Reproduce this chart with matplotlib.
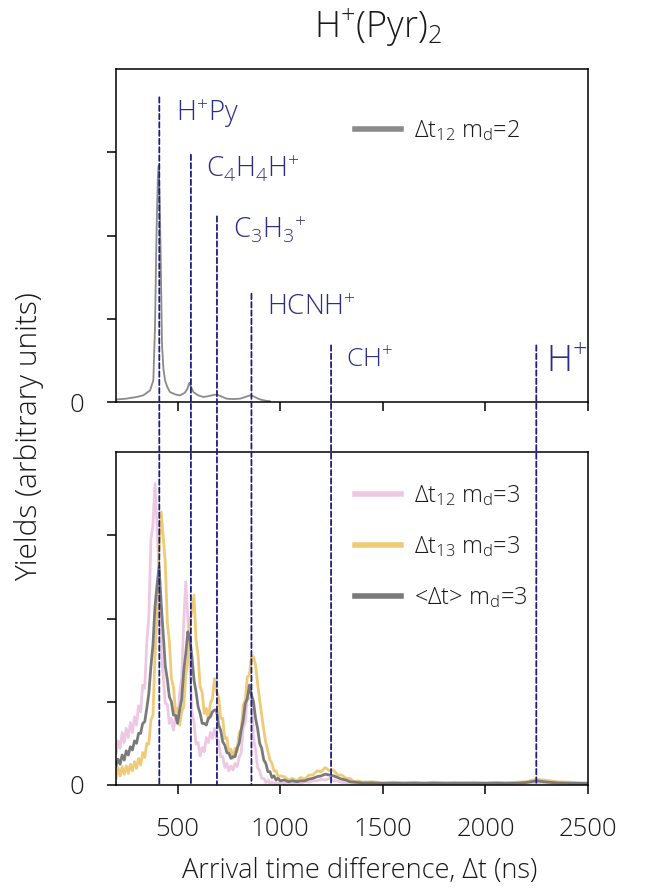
import matplotlib
matplotlib.use("Agg")
import matplotlib.pyplot as plt
from matplotlib.patches import ConnectionPatch
from matplotlib.lines import Line2D

plt.rcParams['font.family'] = ['Open Sans', 'DejaVu Sans']
plt.rcParams['font.weight'] = 'light'
plt.rcParams['mathtext.fontset'] = 'custom'
plt.rcParams['mathtext.rm'] = 'Open Sans:light'
plt.rcParams['mathtext.it'] = 'Open Sans:light'
plt.rcParams['mathtext.bf'] = 'Open Sans'

# ---------------- data ----------------
title = "H$^{+}$(Pyr)$_2$"
xlabel = "Arrival time difference, Δt (ns)"
ylabel = "Yields (arbitrary units)"
xticks = [500, 1000, 1500, 2000, 2500]
xtick_labels = ["500", "1000", "1500", "2000", "2500"]
yticks = [0, 1, 2, 3]
ytick_labels = ["0", "", "", ""]

# fragment markers (ns) and labels
frag_x = [411, 565, 692, 860, 1248, 2248]
frag_labels = ["H$^{+}$Py", "C$_4$H$_4$H$^{+}$", "C$_3$H$_3$$^{+}$", "HCNH$^{+}$", "CH$^{+}$", "H$^{+}$"]

# top panel: Δt12, md=2
top_x = [200, 250, 300, 333, 366, 382, 390, 398, 404, 408, 413, 418, 424, 431, 439, 450, 463, 490,
         512, 535, 548, 557, 566, 577, 600, 626, 650, 674, 691, 710, 739, 770, 804, 830, 853, 869,
         885, 902, 930, 950]
top_y = [0.03, 0.04, 0.06, 0.08, 0.14, 0.26, 0.90, 2.10, 2.70, 2.84, 2.40, 1.70, 0.70, 0.40, 0.26,
         0.18, 0.12, 0.09, 0.08, 0.11, 0.16, 0.23, 0.18, 0.12, 0.08, 0.06, 0.07, 0.084, 0.09, 0.07,
         0.04, 0.035, 0.04, 0.06, 0.08, 0.07, 0.05, 0.03, 0.015, 0.01]

# bottom panel sampling grid (ns)
grid_x = [200, 210, 220, 230, 240, 250, 260, 270, 280, 290, 300, 310, 320, 330, 340, 350, 360, 370,
          380, 390, 400, 410, 420, 430, 440, 450, 460, 470, 480, 490, 500, 510, 520, 530, 540, 550,
          560, 570, 580, 590, 600, 610, 620, 630, 640, 650, 660, 670, 680, 690, 700, 710, 720, 730,
          740, 750, 760, 770, 780, 790, 800, 810, 820, 830, 840, 850, 860, 870, 880, 890, 900, 910,
          920, 930, 940, 950, 960, 970, 980, 990, 1000,
          1020, 1040, 1060, 1080, 1100, 1120, 1140, 1160, 1180, 1200, 1220, 1240, 1260, 1280, 1300,
          1320, 1340, 1360, 1380, 1400,
          1450, 1500, 1550, 1600, 1650, 1700, 1750, 1800, 1850, 1900, 1950, 2000, 2050, 2100, 2150,
          2200, 2250, 2300, 2350, 2400, 2450, 2500]

dt12_md3 = [0.38, 0.53, 0.44, 0.63, 0.51, 0.68, 0.57, 0.75, 0.63, 0.82, 0.72, 0.95, 0.88, 1.20, 1.16,
            1.72, 2.02, 2.95, 3.12, 3.62, 3.10, 2.50, 1.60, 1.32, 0.98, 0.97, 0.74, 0.80, 0.66, 0.81,
            0.77, 1.10, 1.28, 1.95, 2.44, 2.00, 1.42, 0.88, 0.76, 0.49, 0.51, 0.35, 0.45, 0.40, 0.57,
            0.51, 0.63, 0.56, 0.68, 0.56, 0.52, 0.34, 0.34, 0.21, 0.26, 0.17, 0.23, 0.18, 0.26, 0.22,
            0.33, 0.39, 0.68, 0.76, 1.06, 1.03, 1.03, 0.57, 0.42, 0.21, 0.17, 0.08, 0.08, 0.03, 0.06,
            0.02, 0.04, 0.01, 0.03, 0.01, 0.03,
            0.02, 0.03, 0.01, 0.03, 0.02, 0.04, 0.03, 0.05, 0.05, 0.07, 0.06, 0.08, 0.05, 0.05, 0.03,
            0.03, 0.02, 0.02, 0.01, 0.01,
            0.01, 0.01, 0.01, 0.01, 0.01, 0.01, 0.01, 0.01, 0.01, 0.01, 0.01, 0.01, 0.01, 0.01, 0.01,
            0.01, 0.02, 0.01, 0.01, 0.01, 0.01, 0.01]

dt13_md3 = [0.08, 0.21, 0.11, 0.22, 0.13, 0.23, 0.14, 0.25, 0.17, 0.28, 0.20, 0.32, 0.24, 0.39, 0.33,
            0.50, 0.49, 0.78, 0.84, 1.55, 2.00, 2.84, 3.28, 2.98, 2.68, 1.96, 1.72, 1.28, 1.18, 0.88,
            0.92, 0.72, 0.88, 0.94, 1.32, 1.48, 1.97, 2.08, 2.28, 1.74, 1.56, 1.18, 1.11, 0.86, 0.92,
            0.79, 0.98, 1.04, 1.28, 1.12, 1.06, 0.80, 0.80, 0.56, 0.57, 0.39, 0.43, 0.32, 0.44, 0.40,
            0.62, 0.67, 0.96, 1.02, 1.30, 1.32, 1.54, 1.54, 1.44, 1.22, 1.02, 0.84, 0.66, 0.51, 0.41,
            0.30, 0.26, 0.17, 0.17, 0.10, 0.11,
            0.10, 0.06, 0.08, 0.05, 0.09, 0.07, 0.12, 0.12, 0.17, 0.16, 0.21, 0.17, 0.18, 0.12, 0.12,
            0.08, 0.08, 0.04, 0.05, 0.035,
            0.04, 0.025, 0.035, 0.028, 0.033, 0.026, 0.034, 0.028, 0.032, 0.027, 0.033, 0.027, 0.032,
            0.028, 0.033, 0.04, 0.07, 0.055, 0.038, 0.036, 0.028, 0.025]

dtavg_md3 = [0.23, 0.31, 0.25, 0.36, 0.30, 0.41, 0.36, 0.46, 0.42, 0.53, 0.50, 0.62, 0.62, 0.74, 0.76,
             0.92, 1.10, 1.42, 1.68, 2.14, 2.40, 2.62, 2.18, 1.82, 1.43, 1.27, 1.06, 1.00, 0.84, 0.84,
             0.74, 0.90, 1.03, 1.37, 1.58, 1.84, 1.76, 1.54, 1.26, 1.12, 0.94, 0.86, 0.74, 0.74, 0.72,
             0.80, 0.82, 0.88, 0.90, 0.90, 0.72, 0.66, 0.52, 0.48, 0.39, 0.38, 0.32, 0.34, 0.34, 0.44,
             0.50, 0.66, 0.78, 0.98, 1.04, 1.20, 1.08, 1.00, 0.80, 0.68, 0.50, 0.44, 0.30, 0.26, 0.16,
             0.16, 0.09, 0.11, 0.06, 0.08, 0.05,
             0.06, 0.04, 0.05, 0.04, 0.05, 0.05, 0.07, 0.08, 0.10, 0.11, 0.13, 0.12, 0.11, 0.09, 0.07,
             0.06, 0.04, 0.035, 0.03, 0.025,
             0.025, 0.02, 0.022, 0.02, 0.022, 0.02, 0.022, 0.02, 0.02, 0.022, 0.02, 0.02, 0.022, 0.02,
             0.022, 0.03, 0.05, 0.035, 0.025, 0.022, 0.02, 0.018]

# ---------------- styles ----------------
W, H = 657, 893
DPI = 100
NAVY_LINE = '#1c1f80'
NAVY_TEXT = '#2b2e86'
PINK = '#eec8e2'
GOLD = '#efcb78'
GRAY = '#7a7a7a'
TOP_GRAY = '#8a8a8a'
TEXT = '#1a1a1a'

fig = plt.figure(figsize=(W / DPI, H / DPI), dpi=DPI)
ax1 = fig.add_axes([116 / W, 1 - 402 / H, 472 / W, 333 / H])
ax2 = fig.add_axes([116 / W, 1 - 785 / H, 472 / W, 333 / H])

for ax in (ax1, ax2):
    ax.set_xlim(200, 2500)
    ax.set_ylim(0, 4)
    ax.set_xticks(xticks)
    ax.set_yticks(yticks)
    ax.set_yticklabels(ytick_labels)
    ax.tick_params(direction='out', length=6.5, width=1.1, labelsize=18.5, pad=16.5,
                   labelcolor=TEXT)
    for s in ax.spines.values():
        s.set_linewidth(1.1)
ax1.set_xticklabels([])
ax2.set_xticklabels(xtick_labels)

# top panel
ax1.plot(top_x, top_y, color=TOP_GRAY, lw=1.3)
ax1.legend([Line2D([], [], color=TOP_GRAY, lw=4)],
           ["Δt$_{12}$ m$_d$=2"], frameon=False, loc='center left',
           bbox_to_anchor=(0.506, 0.814), borderpad=0, borderaxespad=0,
           handlelength=1.95, handletextpad=0.55, fontsize=17, labelcolor=TEXT)

# bottom panel
ax2.plot(grid_x, dt12_md3, color=PINK, lw=2.0)
ax2.plot(grid_x, dt13_md3, color=GOLD, lw=2.0)
ax2.plot(grid_x, dtavg_md3, color=GRAY, lw=2.0)
ax2.legend([Line2D([], [], color=PINK, lw=4), Line2D([], [], color=GOLD, lw=4),
            Line2D([], [], color=GRAY, lw=4)],
           ["Δt$_{12}$ m$_d$=3", "Δt$_{13}$ m$_d$=3", "<Δt> m$_d$=3"],
           frameon=False, loc='center left', bbox_to_anchor=(0.506, 0.715),
           borderpad=0, borderaxespad=0, handlelength=1.95, handletextpad=0.55,
           labelspacing=1.1, fontsize=17, labelcolor=TEXT)

# fragment lines and labels
line_top = [3.66, 2.97, 2.23, 1.30, 0.68, 0.68]
label_x = [492, 638, 771, 934, 1323, 2297]
label_y = [3.38, 2.70, 1.96, 1.04, 0.42, 0.36]
label_fs = [20, 20, 20, 20, 19, 26]
for fx, yt, lx, ly, lab, fs in zip(frag_x, line_top, label_x, label_y, frag_labels, label_fs):
    cp = ConnectionPatch(xyA=(fx, yt), coordsA=ax1.transData, xyB=(fx, 0), coordsB=ax2.transData,
                         color=NAVY_LINE, lw=1.3, linestyle=(0, (3, 1.6)))
    fig.add_artist(cp)
    ax1.text(lx, ly, lab, color=NAVY_TEXT, fontsize=fs, ha='left', va='baseline')

fig.text(378 / W, 1 - 38 / H, title, ha='center', va='baseline', fontsize=26, color=TEXT)
fig.text(29 / W, 1 - 437 / H, ylabel, ha='center', va='center', rotation=90, fontsize=21.5,
         color=TEXT)
fig.text(360 / W, 1 - 878 / H, xlabel, ha='center', va='baseline', fontsize=19.5, color=TEXT)

fig.savefig("out.png", dpi=DPI)
